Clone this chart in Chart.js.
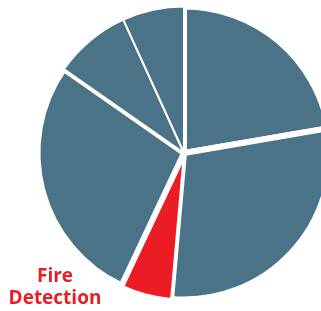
<!DOCTYPE html>
<html>
<head>
<meta charset="utf-8">
<script src="https://cdn.jsdelivr.net/npm/chart.js@4.4.0/dist/chart.umd.min.js"></script>
<style>
  html, body { margin: 0; padding: 0; background: #fff; overflow: hidden; }
  #wrap { position: relative; width: 321px; height: 311px; }
</style>
</head>
<body>
<div id="wrap"><canvas id="pieChart"></canvas></div>
<script>
// Données (parts en %, sens horaire depuis midi)
const categories = ["Segment 1", "Segment 2", "Fire Detection", "Segment 4", "Segment 5", "Segment 6"];
const values = [22.3, 29.1, 5.6, 27.7, 8.5, 6.8];
const highlighted = "Fire Detection";

const BLEU = "#4b7387";
const ROUGE = "#ec1c24";

// Étiquette rouge du segment mis en avant
const labelPlugin = {
    id: "labelFire",
    afterDatasetsDraw(chart) {
        const ctx = chart.ctx;
        const words = highlighted.split(" ");
        ctx.save();
        ctx.fillStyle = ROUGE;
        ctx.font = "bold 19px 'Open Sans', sans-serif";
        ctx.textAlign = "center";
        ctx.textBaseline = "alphabetic";
        ctx.fillText(words[0], 55, 282);
        ctx.fillText(words[1], 55, 304);
        ctx.restore();
    }
};

const canvas = document.getElementById("pieChart");

new Chart(canvas, {
    type: "pie",
    plugins: [labelPlugin],
    data: {
        labels: categories,
        datasets: [{
            data: values,
            backgroundColor: categories.map(c => c === highlighted ? ROUGE : BLEU),
            borderColor: "#fff",
            borderWidth: [6, 6, 2, 6, 2, 2]
        }]
    },
    options: {
        responsive: true,
        maintainAspectRatio: false,
        animation: false,
        radius: 146.5,
        layout: { padding: { left: 47, right: 0, top: 0, bottom: 5 } },
        plugins: {
            legend: { display: false },
            tooltip: { enabled: false }
        }
    }
});
</script>
</body>
</html>
